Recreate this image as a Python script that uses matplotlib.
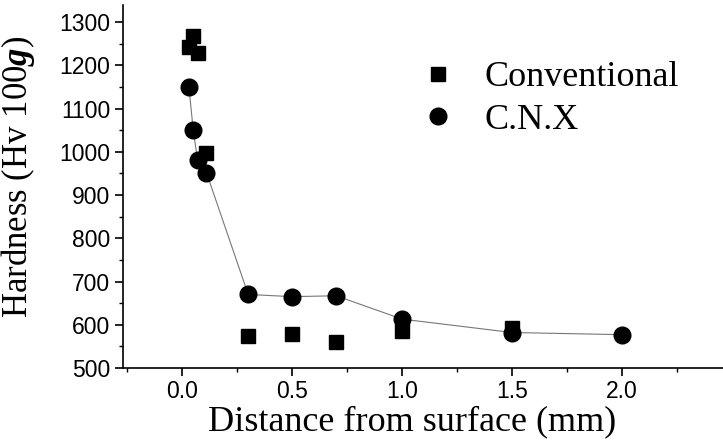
import matplotlib.pyplot as plt
from matplotlib.ticker import MultipleLocator

# Conventional (squares)
conv_x = [0.03, 0.05, 0.07, 0.11, 0.3, 0.5, 0.7, 1.0, 1.5]
conv_y = [1242, 1267, 1228, 998, 573, 578, 560, 585, 593]

# C.N.X (circles, joined by a line)
cnx_x = [0.03, 0.05, 0.07, 0.11, 0.3, 0.5, 0.7, 1.0, 1.5, 2.0]
cnx_y = [1151, 1050, 980, 952, 670, 665, 667, 613, 582, 577]

x_ticks = [0.0, 0.5, 1.0, 1.5, 2.0]
y_ticks = [500, 600, 700, 800, 900, 1000, 1100, 1200, 1300]

plt.rcParams["mathtext.fontset"] = "custom"
plt.rcParams["mathtext.it"] = "Liberation Serif:italic:bold"
plt.rcParams["mathtext.rm"] = "Liberation Serif"

fig = plt.figure(figsize=(7.23, 4.46), dpi=100)
ax = fig.add_axes([0.170, 0.175, 0.830, 0.814])

ax.plot(cnx_x, cnx_y, color="#777777", lw=0.8, zorder=1)
ax.plot(conv_x, conv_y, "s", color="black", ms=10, ls="none", label="Conventional", zorder=2)
ax.plot(cnx_x, cnx_y, "o", color="black", ms=12, ls="none", label="C.N.X", zorder=3)

ax.set_xlim(-0.27, 2.46)
ax.set_ylim(500, 1340)
ax.set_xticks(x_ticks)
ax.set_yticks(y_ticks)
ax.xaxis.set_minor_locator(MultipleLocator(0.25))
ax.yaxis.set_minor_locator(MultipleLocator(50))

for s in ["top", "right"]:
    ax.spines[s].set_visible(False)
for s in ["left", "bottom"]:
    ax.spines[s].set_linewidth(1.2)

ax.tick_params(which="major", direction="out", length=6, width=1.2, labelsize=16.5, pad=3)
ax.tick_params(which="minor", direction="out", length=3, width=1.0)
for lab in ax.get_xticklabels() + ax.get_yticklabels():
    lab.set_fontfamily("Liberation Sans")

ax.set_xlabel("Distance from surface (mm)", family="Liberation Serif", fontsize=26)
ax.set_ylabel(r"Hardness (Hv 100$\it{g}$)", family="Liberation Serif", fontsize=25)
ax.xaxis.set_label_coords(0.482, -0.102)
ax.yaxis.set_label_coords(-0.143, 0.525)

leg = ax.legend(loc="upper left", bbox_to_anchor=(0.44, 0.935), frameon=False,
                prop={"family": "Liberation Serif", "size": 26},
                handletextpad=0.8, labelspacing=0.25, handlelength=1.0)

fig.savefig("out.png", dpi=100)
